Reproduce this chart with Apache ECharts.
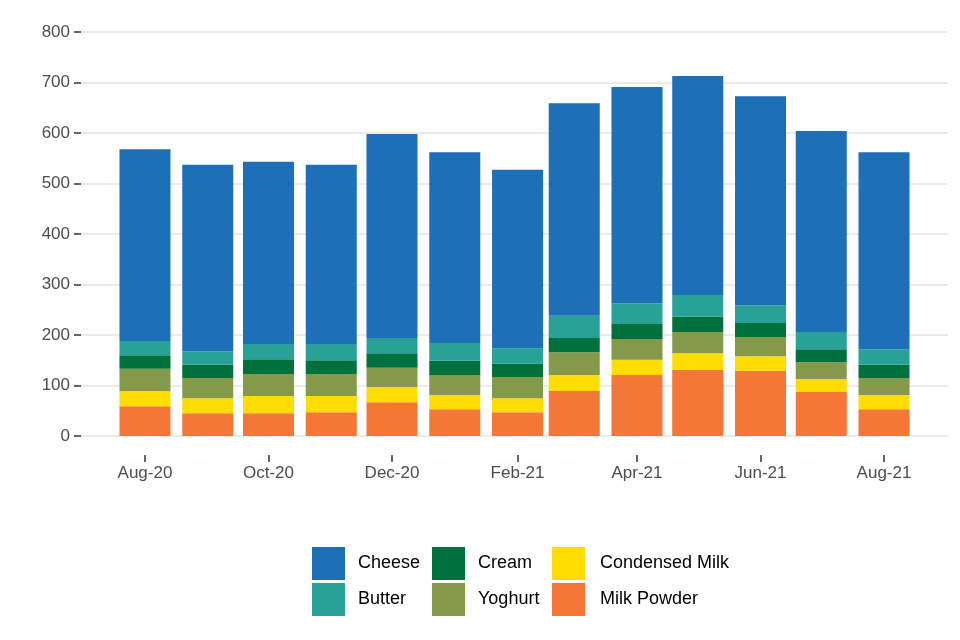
<!DOCTYPE html>
<html>
<head>
<meta charset="utf-8">
<script src="https://cdn.jsdelivr.net/npm/echarts@6/dist/echarts.min.js"></script>
<style>
html,body{margin:0;padding:0;background:#fff;}
#chart{width:960px;height:640px;}
</style>
</head>
<body>
<div id="chart"></div>
<script>
// ---- data ----
var months = ['2020-08-01','2020-09-01','2020-10-01','2020-11-01','2020-12-01','2021-01-01','2021-02-01','2021-03-01','2021-04-01','2021-05-01','2021-06-01','2021-07-01','2021-08-01'];
var milkPowder    = [59, 45, 45, 47, 67, 53, 47, 89, 121, 131, 129, 87, 53];
var condensedMilk = [30, 30, 34, 32, 30, 28, 28, 32, 30, 33, 29, 26, 28];
var yoghurt       = [44, 40, 44, 44, 38, 40, 42, 45, 41, 42, 38, 33, 34];
var cream         = [27, 26, 29, 27, 29, 28, 26, 28, 30, 30, 28, 26, 26];
var butter        = [28, 27, 30, 32, 30, 35, 31, 44, 41, 43, 35, 34, 31];
var cheese        = [380, 369, 361, 355, 404, 378, 353, 421, 428, 434, 414, 398, 390];
var tickDates  = ['2020-08-01','2020-10-01','2020-12-01','2021-02-01','2021-04-01','2021-06-01','2021-08-01'];
var tickLabels = ['Aug-20','Oct-20','Dec-20','Feb-21','Apr-21','Jun-21','Aug-21'];
var yTicks = [0, 100, 200, 300, 400, 500, 600, 700, 800];

// ---- build ----
var DAY = 86400000;
var BAR_DAYS = 0.9 * 28; // bar width in days (90% of the shortest month gap)
function dayNum(s){ return new Date(s + 'T00:00:00Z').getTime() / DAY; }
var tickDays = tickDates.map(dayNum);

// bottom-to-top stacking order
var seriesDefs = [
  {name:'Milk Powder', data: milkPowder, color:'#f47738'},
  {name:'Condensed Milk', data: condensedMilk, color:'#ffdd00'},
  {name:'Yoghurt', data: yoghurt, color:'#85994b'},
  {name:'Cream', data: cream, color:'#00703c'},
  {name:'Butter', data: butter, color:'#28a197'},
  {name:'Cheese', data: cheese, color:'#1d70b8'}
];

var running = months.map(function(){ return 0; });
var series = seriesDefs.map(function(d){
  var rows = months.map(function(m, i){
    var base = running[i];
    var top = base + d.data[i];
    running[i] = top;
    return [dayNum(m), base, top];
  });
  var color = d.color;
  return {
    name: d.name, type: 'custom',
    itemStyle: {color: color},
    encode: {x: 0, y: [1, 2]},
    data: rows,
    renderItem: function(params, api){
      var x = api.value(0);
      var p0 = api.coord([x, api.value(1)]);
      var p1 = api.coord([x, api.value(2)]);
      var w = api.size([BAR_DAYS, 0])[0];
      return {
        type: 'rect',
        shape: {x: p0[0] - w / 2, y: p1[1], width: w, height: p0[1] - p1[1]},
        style: {fill: color}
      };
    }
  };
});

function legendCol(left, names, pad){
  return {
    orient: 'vertical', left: left, top: 547, padding: 0,
    itemWidth: 33, itemHeight: 33, itemGap: 3, icon: 'rect',
    selectedMode: false,
    data: names,
    textStyle: {fontSize: 18, color: '#000', fontFamily: 'Liberation Sans, Arial, sans-serif', padding: [0,0,0,pad]}
  };
}

var option = {
  animation: false,
  backgroundColor: '#fff',
  textStyle: {fontFamily: 'Liberation Sans, Arial, sans-serif'},
  grid: {left: 81, right: 12, top: 32, bottom: 204, containLabel: false},
  legend: [
    legendCol(312, ['Cheese','Butter'], 8),
    legendCol(432, ['Cream','Yoghurt'], 8),
    legendCol(552, ['Condensed Milk','Milk Powder'], 10)
  ],
  xAxis: {
    type: 'value',
    min: dayNum('2020-07-01') - 0.6,
    max: dayNum('2021-09-01') + 0.6,
    axisLine: {show: false},
    splitLine: {show: false},
    axisTick: {show: true, length: 26, customValues: tickDays, lineStyle: {color: '#333', width: 1.5, type: [0, 19, 7]}},
    axisLabel: {
      customValues: tickDays,
      margin: 29,
      fontSize: 17,
      color: '#4d4d4d',
      formatter: function(v){
        var i = -1;
        for (var k = 0; k < tickDays.length; k++) if (Math.abs(tickDays[k] - v) < 0.5) i = k;
        return i >= 0 ? tickLabels[i] : '';
      }
    }
  },
  yAxis: {
    type: 'value',
    min: yTicks[0], max: yTicks[yTicks.length - 1], interval: 100,
    axisLine: {show: false},
    axisTick: {show: true, length: 7, lineStyle: {color: '#333', width: 1.5}},
    axisLabel: {margin: 11, fontSize: 17, color: '#4d4d4d'},
    splitLine: {show: true, lineStyle: {color: '#e5e5e5', width: 1.5}}
  },
  series: series
};

var chart = echarts.init(document.getElementById('chart'), null, {renderer: 'canvas'});
chart.setOption(option);
</script>
</body>
</html>
